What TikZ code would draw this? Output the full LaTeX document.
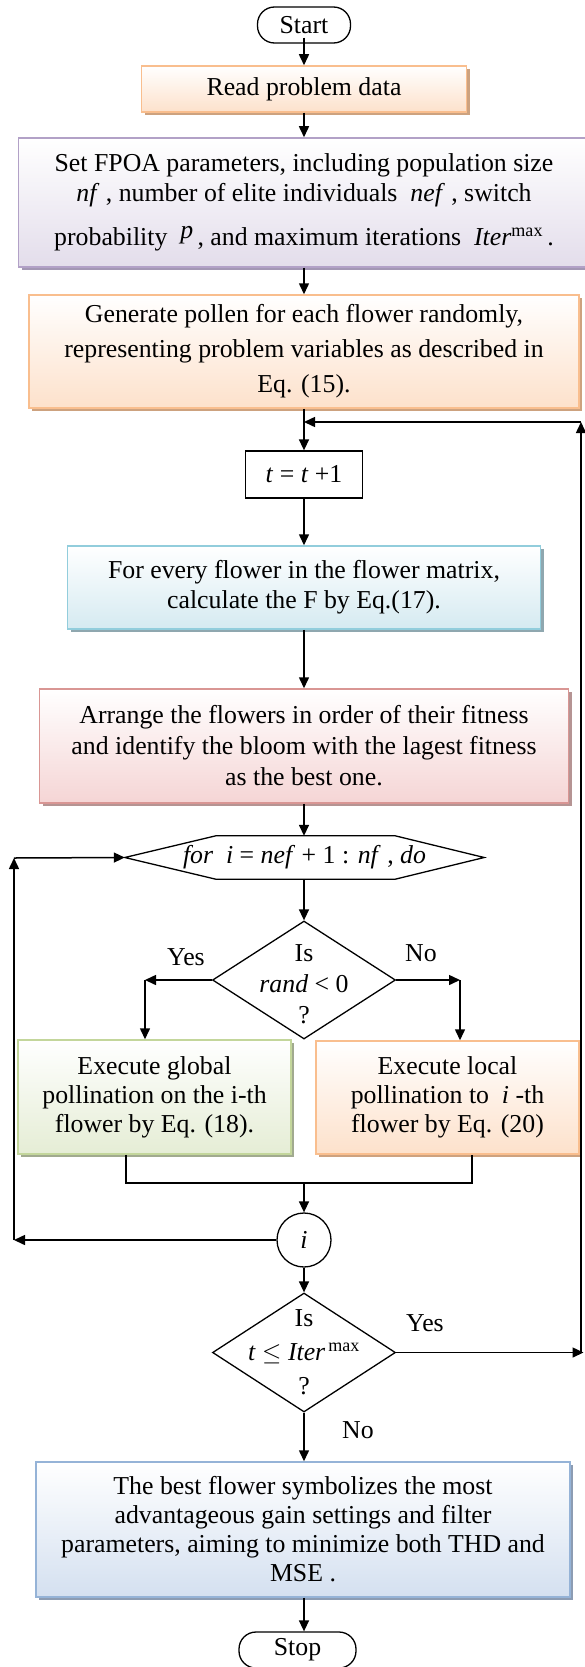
\documentclass[tikz,border=0pt]{standalone}
\usepackage{fontspec}
\setmainfont{Liberation Serif}
\usetikzlibrary{shapes.geometric,shadows,arrows.meta,calc}
\definecolor{orB}{HTML}{F9BE8E}
\definecolor{orF}{HTML}{FDE1CB}
\definecolor{orS}{HTML}{CDA27F}
\definecolor{puB}{HTML}{B2A1C7}
\definecolor{puF}{HTML}{E3DDEB}
\definecolor{puS}{HTML}{A397B4}
\definecolor{blB}{HTML}{92CDDC}
\definecolor{blF}{HTML}{D5EAF1}
\definecolor{blS}{HTML}{8FA7AF}
\definecolor{rdB}{HTML}{D99694}
\definecolor{rdF}{HTML}{F5D5D5}
\definecolor{rdS}{HTML}{B59493}
\definecolor{grB}{HTML}{C3D69B}
\definecolor{grF}{HTML}{E5EDD5}
\definecolor{grS}{HTML}{A1AA8F}
\definecolor{sbB}{HTML}{95B3D7}
\definecolor{sbF}{HTML}{D4E0F0}
\definecolor{sbS}{HTML}{8C9CB3}
\begin{document}
\begin{tikzpicture}[x=1pt,y=1pt,
  font=\fontsize{25.8pt}{30pt}\selectfont,
  arr/.style={-{Triangle[length=11pt,width=10pt]}, line width=1.5pt},
  ln/.style={line width=1.5pt},
  cbox/.style n args={3}{rectangle, draw=#1, top color=white, bottom color=#2,
     drop shadow={shadow xshift=3pt, shadow yshift=-3pt, fill=#3, opacity=1},
     line width=1.5pt, inner sep=0pt, align=center},
  term/.style={draw, line width=1.3pt, rounded corners=17pt, fill=white, inner sep=0pt},
  plainbox/.style={draw, line width=1.3pt, fill=white, inner sep=0pt},
  dec/.style={diamond, draw, line width=1.3pt, fill=white, inner sep=0pt},
  txt/.style={align=center, inner sep=0pt}]
\useasboundingbox (0,0) rectangle (584,-1667);
\fill[white] (0,0) rectangle (584,-1667);

% nodes
\node[term, minimum width=93pt, minimum height=36pt] (start) at (304,-25) {Start};
\node[cbox={orB}{orF}{orS}, minimum width=325pt, minimum height=46pt] (read) at (304,-89) {Read problem data};
\node[cbox={puB}{puF}{puS}, minimum width=571pt, minimum height=129pt] (set) at (304,-202.5)
  {Set FPOA parameters, including population size\\
   \textit{nf} , number of elite individuals \ \textit{nef} , switch\\[14pt]
   probability \ \raisebox{7pt}{\textit{p}}\,, and maximum iterations \ \textit{Iter}\textsuperscript{max}\,.};
\node[cbox={orB}{orF}{orS}, minimum width=550pt, minimum height=113pt, font=\fontsize{25.8pt}{35pt}\selectfont] (gen) at (304,-351.5)
  {Generate pollen for each flower randomly,\\
   representing problem variables as described in\\
   Eq. (15).};
\node[plainbox, minimum width=117pt, minimum height=47pt] (tinc) at (304,-474.5) {\textit{t} = \textit{t} +1};
\node[cbox={blB}{blF}{blS}, minimum width=473pt, minimum height=83pt] (fe) at (304,-587.5)
  {For every flower in the flower matrix,\\ calculate the F by Eq.(17).};
\node[cbox={rdB}{rdF}{rdS}, minimum width=529pt, minimum height=114pt, font=\fontsize{25.8pt}{31pt}\selectfont] (arrg) at (304,-746)
  {Arrange the flowers in order of their fitness\\
   and identify the bloom with the lagest fitness\\
   as the best one.};
\node[minimum width=359pt, minimum height=43pt, inner sep=0pt] (hex) at (304.5,-857.5)
  {\textit{for} \ \textit{i} = \textit{nef} + 1 : \textit{nf} , \textit{do}};
\draw[line width=1.3pt] (hex.west) -- ([xshift=91pt]hex.north west) -- ([xshift=-89pt]hex.north east)
  -- (hex.east) -- ([xshift=-89pt]hex.south east) -- ([xshift=91pt]hex.south west) -- cycle;
\node[dec, minimum width=183pt, minimum height=118pt] (d1) at (304,-980) {};
\node[txt, font=\fontsize{25.8pt}{31pt}\selectfont] (d1t) at (304,-984) {Is\\ \textit{rand} < 0\\ ?};
\node[cbox={grB}{grF}{grS}, minimum width=273pt, minimum height=114pt, font=\fontsize{25.8pt}{29pt}\selectfont] (glob) at (154.5,-1097)
  {Execute global\\ pollination on the i-th\\ flower by Eq. (18).};
\node[cbox={orB}{orF}{orS}, minimum width=263pt, minimum height=113pt, font=\fontsize{25.8pt}{29pt}\selectfont] (loc) at (447.5,-1097.5)
  {Execute local\\ pollination to \ \textit{i} -th\\ flower by Eq. (20)};
\node[circle, draw, line width=1.3pt, fill=white, minimum size=54pt, inner sep=0pt] (ci) at (304,-1240) {\textit{i}};
\node[dec, minimum width=183pt, minimum height=119pt] (d2) at (304,-1352.5) {};
\node[txt, font=\fontsize{25.8pt}{34pt}\selectfont] (d2t) at (304,-1352) {Is\\ \textit{t} $\leq$ \textit{Iter}\textsuperscript{\,max}\\ ?};
\node[cbox={sbB}{sbF}{sbS}, minimum width=534pt, minimum height=135pt, font=\fontsize{25.8pt}{29pt}\selectfont] (fin) at (303,-1529.5)
  {The best flower symbolizes the most\\
   advantageous gain settings and filter\\
   parameters, aiming to minimize both THD and\\
   MSE .};
\node[term, minimum width=117pt, minimum height=36pt] (stop) at (297.5,-1650) {Stop};

% labels
\node (ly1) at (186,-957) {Yes};
\node (ln1) at (421,-953) {No};
\node (ly2) at (425,-1323) {Yes};
\node (ln2) at (358,-1430) {No};

% coordinates
\coordinate (fb) at (304,-422);
\coordinate (rt) at (581,-422);
\coordinate (rb) at (581,-1352.5);
\coordinate (ye) at (583.5,-1352.5);
\coordinate (yc) at (145,-980);
\coordinate (nc) at (460,-980);
\coordinate (ml) at (126,-1183);
\coordinate (mr) at (472,-1183);
\coordinate (mm) at (304,-1183);
\coordinate (ll) at (14,-1240);
\coordinate (lt) at (14,-858);

% connectors
\draw[arr] ([yshift=6pt]start.south) -- (read.north);
\draw[arr] (read.south) -- (set.north);
\draw[arr] (set.south) -- (gen.north);
\draw[arr] (gen.south) -- (tinc.north);
\draw[arr] (tinc.south) -- (fe.north);
\draw[arr] (fe.south) -- (arrg.north);
\draw[arr] (arrg.south) -- (hex.north -| arrg.south);
\draw[arr] (hex.south -| d1.north) -- (d1.north);
\draw[arr] (d1.west) -- (yc);
\draw[arr] (yc) -- (yc |- glob.north);
\draw[arr] (d1.east) -- (nc);
\draw[arr] (nc) -- (nc |- loc.north);
\draw[ln] (ml |- glob.south) -- (ml) -- (mr) -- (mr |- loc.south);
\draw[arr] (mm) -- (ci.north);
\draw[arr] (ci.west) -- (ll);
\draw[arr] (ll) -- (lt);
\draw[arr] (lt) -- (hex.west);
\draw[arr] (ci.south) -- (d2.north);
\draw[arr] (d2.east) -- (ye);
\draw[arr] (rb) -- (rt);
\draw[arr] (rt) -- (fb);
\draw[arr] (d2.south) -- (fin.north -| d2.south);
\draw[arr] (fin.south -| d2.south) -- (d2.south |- stop.north);
\end{tikzpicture}
\end{document}
